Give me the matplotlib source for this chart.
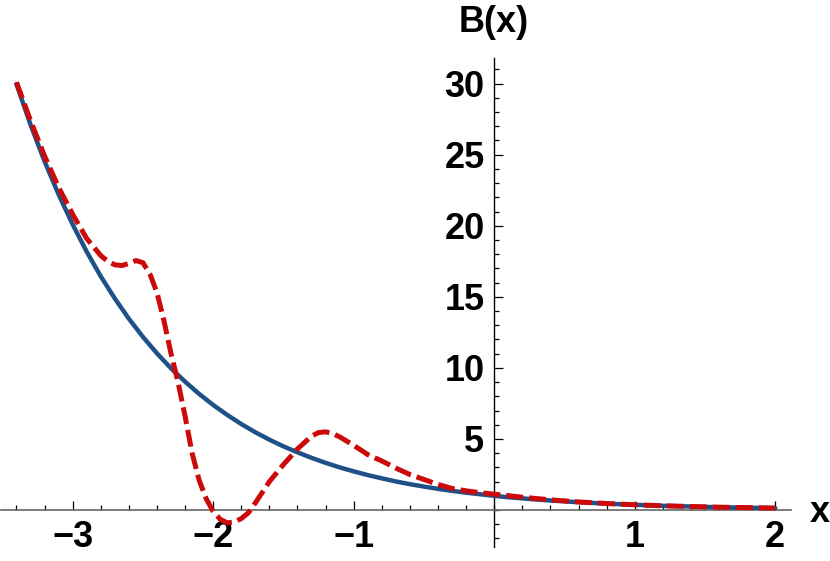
import numpy as np
import matplotlib
matplotlib.use("Agg")
import matplotlib.pyplot as plt
from matplotlib.ticker import MultipleLocator, FixedLocator

# solid curve, values
x_blue = [-3.4, -3.3, -3.2, -3.1, -3.0, -2.9, -2.8, -2.7, -2.6, -2.5,
          -2.4, -2.3, -2.2, -2.1, -2.0, -1.9, -1.8, -1.7, -1.6, -1.5,
          -1.4, -1.3, -1.2, -1.1, -1.0, -0.9, -0.8, -0.7, -0.6, -0.5,
          -0.4, -0.3, -0.2, -0.1, 0.0, 0.1, 0.2, 0.3, 0.4, 0.5,
          0.6, 0.7, 0.8, 0.9, 1.0, 1.1, 1.2, 1.3, 1.4, 1.5,
          1.6, 1.7, 1.8, 1.9, 2.0]
y_blue = [29.96, 27.11, 24.53, 22.20, 20.09, 18.17, 16.44, 14.88, 13.46, 12.18,
          11.02, 9.97, 9.03, 8.17, 7.39, 6.69, 6.05, 5.47, 4.95, 4.48,
          4.06, 3.67, 3.32, 3.00, 2.72, 2.46, 2.23, 2.01, 1.82, 1.65,
          1.49, 1.35, 1.22, 1.11, 1.00, 0.90, 0.82, 0.74, 0.67, 0.61,
          0.55, 0.50, 0.45, 0.41, 0.37, 0.33, 0.30, 0.27, 0.25, 0.22,
          0.20, 0.18, 0.165, 0.15, 0.135]

# dashed curve, values
x_red = [-3.4, -3.3, -3.2, -3.1, -3.0, -2.9, -2.8, -2.75, -2.7, -2.65,
         -2.6, -2.55, -2.5, -2.45, -2.4, -2.35, -2.3, -2.25, -2.2, -2.15,
         -2.1, -2.05, -2.0, -1.95, -1.9, -1.85, -1.8, -1.75, -1.7, -1.6,
         -1.5, -1.4, -1.3, -1.25, -1.2, -1.15, -1.1, -1.0, -0.9, -0.8,
         -0.7, -0.6, -0.5, -0.4, -0.3, -0.2, -0.1, 0.0, 0.2, 0.4,
         0.6, 0.8, 1.0, 1.2, 1.4, 1.6, 1.8, 2.0]
y_red = [30.1, 27.4, 24.9, 22.7, 20.8, 19.1, 17.9, 17.5, 17.25, 17.2,
         17.35, 17.55, 17.4, 16.6, 15.3, 13.3, 11.0, 9.0, 6.6, 4.0,
         2.1, 0.8, -0.1, -0.65, -0.9, -0.85, -0.6, -0.2, 0.5, 2.0,
         3.2, 4.3, 5.2, 5.45, 5.5, 5.38, 5.15, 4.55, 3.9, 3.45,
         2.95, 2.5, 2.15, 1.8, 1.52, 1.35, 1.22, 1.12, 0.9, 0.72,
         0.57, 0.46, 0.37, 0.30, 0.25, 0.20, 0.17, 0.14]

fig = plt.figure(figsize=(8.3, 5.61), dpi=100)
ax = fig.add_axes([1 / 830, 14 / 561, 790 / 830, 489 / 561])
ax.set_xlim(-3.51, 2.112)
ax.set_ylim(-2.6, 31.8)

ax.plot(x_blue, y_blue, color="#1f5188", lw=3.2, solid_capstyle="round", zorder=3)
ax.plot(x_red, y_red, color="#cc0a0a", lw=3.6, dashes=(3.4, 1.2),
        dash_capstyle="butt", zorder=4)

for s in ["top", "right"]:
    ax.spines[s].set_visible(False)
ax.spines["left"].set_position(("data", 0))
ax.spines["bottom"].set_position(("data", 0))
ax.spines["bottom"].set_color("#666666")
ax.spines["bottom"].set_linewidth(1.2)
ax.spines["left"].set_color("black")
ax.spines["left"].set_linewidth(1.0)

ax.xaxis.set_major_locator(FixedLocator([-3, -2, -1, 1, 2]))
ax.xaxis.set_minor_locator(MultipleLocator(0.2))
ax.yaxis.set_major_locator(FixedLocator([5, 10, 15, 20, 25, 30]))
ax.yaxis.set_minor_locator(MultipleLocator(1))

ax.tick_params(which="both", direction="in", color="black", width=0.9)
ax.tick_params(which="major", length=6.5)
ax.tick_params(which="minor", length=3.6)
ax.tick_params(axis="x", which="major", pad=7)
ax.tick_params(axis="y", which="major", pad=7)

for lab in ax.get_xticklabels() + ax.get_yticklabels():
    lab.set_fontfamily("Liberation Sans")
    lab.set_fontweight("bold")
    lab.set_fontsize(26)

fig.text(494 / 830, 1 - 22 / 561, "B(x)", ha="center", va="center",
         fontsize=26, fontweight="bold", family="Liberation Sans")
fig.text(820 / 830, 1 - 512 / 561, "x", ha="center", va="center",
         fontsize=26, fontweight="bold", family="Liberation Sans")

fig.savefig("out.png", dpi=100)
